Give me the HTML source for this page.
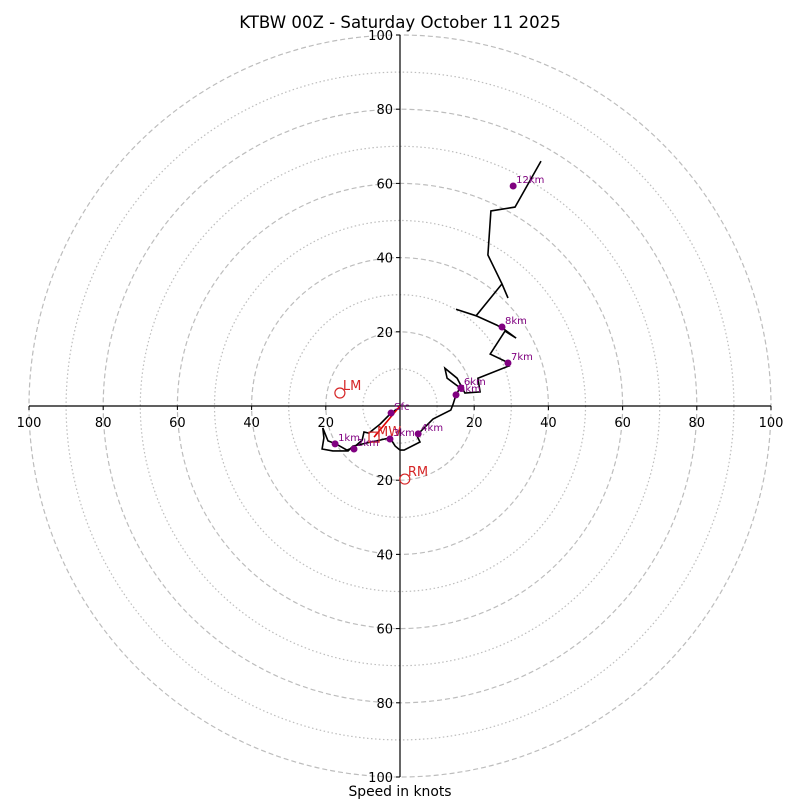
<!DOCTYPE html>
<html><head><meta charset="utf-8"><style>
body{margin:0;background:#fff}
svg{display:block;font-family:"DejaVu Sans","Liberation Sans",sans-serif}
</style></head><body>
<svg id="chart" width="800" height="800" viewBox="0 0 800 800">
<text x="400" y="28" text-anchor="middle" font-size="16.6">KTBW 00Z - Saturday October 11 2025</text>
<text x="400" y="796" text-anchor="middle" font-size="13.9">Speed in knots</text>
<g id="rings"></g><g id="axes"></g><g id="plot"></g>
</svg>
<script>
const ringValues=[10,20,30,40,50,60,70,80,90,100];
const tickLabels=[20,40,60,80,100];
const pathU=[-0.8,-2.4,-5.4,-8.4,-9.7,-10.2,-12.4,-14.3,-17.3,-19.4,-20.8,-20.5,-21.0,-18.1,-14.0,-12.7,-7.8,-2.7,-1.3,0,1.1,5.4,4.6,4.9,8.9,13.7,14.3,15.1,16.2,12.7,12.1,15.4,17.5,21.6,21.0,29.4,28.3,24.3,28.3,31.3,28.3,26.1,20.5,15.1,20.5,27.5,29.1,27.5,23.7,24.5,31.0,38.0];
const pathV=[-0.8,-1.9,-4.9,-7.3,-7.0,-9.2,-11.1,-11.9,-10.2,-9.4,-5.9,-8.6,-11.6,-12.1,-12.1,-10.8,-9.7,-8.6,-10.8,-11.9,-11.9,-9.7,-8.1,-7.5,-3.5,-1.1,0.5,3.0,4.9,7.5,10.2,7.5,3.5,3.8,7.5,10.8,12.1,14.0,20.2,18.3,20.5,21.8,24.3,26.1,24.3,32.9,29.1,32.9,40.7,52.6,53.6,66.0];
const markerLabels=["Sfc","1km","2km","3km","4km","5km","6km","7km","8km","12km"];
const markerU=[-2.4,-17.5,-12.4,-2.7,4.9,15.1,16.4,29.1,27.5,30.5];
const markerV=[-1.9,-10.2,-11.6,-8.9,-7.5,3.0,4.9,11.6,21.3,59.3];
const motionLabels=["LM","RM"];
const motionU=[-16.2,1.3];
const motionV=[3.5,-19.7];
const meanWind=[-7.0,-8.4];
const NS="http://www.w3.org/2000/svg";
const cx=400,cy=406,k=3.71;
const sx=u=>cx+u*k, sy=v=>cy-v*k;
function el(tag,attrs,parent){const e=document.createElementNS(NS,tag);for(const a in attrs)e.setAttribute(a,attrs[a]);parent.appendChild(e);return e;}
const rings=document.getElementById('rings'),axes=document.getElementById('axes'),plot=document.getElementById('plot');
ringValues.forEach(r=>{
  const c=el('circle',{cx:cx,cy:cy,r:r*k,fill:'none',stroke:'#bdbdbd','stroke-width':1.2,'stroke-dasharray':r%20===0?'5,3':'1.5,2.5'},rings);
  
  
});
let l=el('line',{x1:sx(-100),y1:cy,x2:sx(100),y2:cy,stroke:'#000','stroke-width':1.2},axes);


l=el('line',{x1:cx,y1:sy(100),x2:cx,y2:sy(-100),stroke:'#000','stroke-width':1.2},axes);


tickLabels.forEach(t=>{
  [-1,1].forEach(s=>{
    el('line',{x1:sx(s*t),y1:cy,x2:sx(s*t),y2:cy+4,stroke:'#000'},axes);
    let tx=el('text',{x:sx(s*t),y:cy+21,'text-anchor':'middle','font-size':13},axes);
    tx.textContent=t;
    
    
    el('line',{x1:cx-4,y1:sy(s*t),x2:cx,y2:sy(s*t),stroke:'#000'},axes);
    let ty=el('text',{x:cx-7,y:sy(s*t)+5,'text-anchor':'end','font-size':13},axes);
    ty.textContent=t;
    
    
  });
});
const pts=pathU.map((u,i)=>sx(u).toFixed(1)+','+sy(pathV[i]).toFixed(1)).join(' ');
const pl=el('polyline',{points:pts,fill:'none',stroke:'#000','stroke-width':1.6,'stroke-linejoin':'miter'},plot);


const rl=el('line',{x1:sx(0),y1:sy(0),x2:sx(meanWind[0]),y2:sy(meanWind[1]),stroke:'#e00000','stroke-width':1.6},plot);


const mw=el('rect',{x:sx(meanWind[0])-5,y:sy(meanWind[1])-5,width:10,height:10,fill:'none',stroke:'#d62728','stroke-width':1.2},plot);


let mt=el('text',{x:sx(meanWind[0])+3,y:sy(meanWind[1])-1,'font-size':13,fill:'#d62728'},plot);
mt.textContent='MW';


markerLabels.forEach((lab,i)=>{
  const d=el('circle',{cx:sx(markerU[i]),cy:sy(markerV[i]),r:3.5,fill:'#800080'},plot);
  
  
  const t=el('text',{x:sx(markerU[i])+3,y:sy(markerV[i])-3,'font-size':10,fill:'#800080'},plot);
  t.textContent=lab;
  
  
});
motionLabels.forEach((lab,i)=>{
  const c=el('circle',{cx:sx(motionU[i]),cy:sy(motionV[i]),r:5,fill:'none',stroke:'#d62728','stroke-width':1.2},plot);
  
  
  const t=el('text',{x:sx(motionU[i])+3,y:sy(motionV[i])-3,'font-size':13,fill:'#d62728'},plot);
  t.textContent=lab;
  
  
});
</script>
</body></html>
